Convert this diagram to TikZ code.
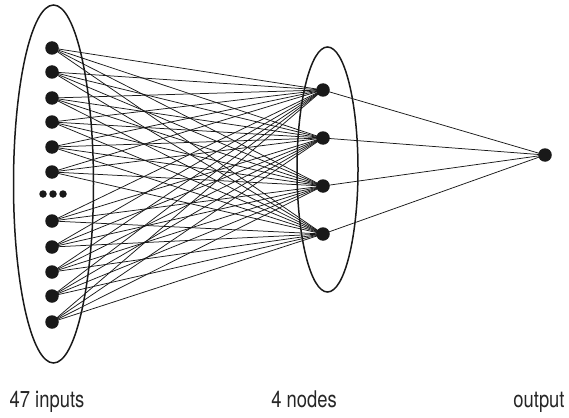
\documentclass[tikz,border=0pt]{standalone}
\usepackage{fontspec}
\setmainfont{TeX Gyre Heros}[FakeStretch=0.8]
\begin{document}
\begin{tikzpicture}[x=1pt,y=-1pt,
  unit/.style={circle,fill=black!90,inner sep=0pt,minimum size=13.5pt},
  tiny/.style={circle,fill=black!90,inner sep=0pt,minimum size=7.5pt},
  conn/.style={line width=0.75pt,black!90},
  group/.style={line width=1.5pt,black!90},
  lab/.style={anchor=base,font=\fontsize{23}{26}\selectfont,text=black!85,inner sep=0pt}]
\useasboundingbox (0,0) rectangle (569,417);
\draw[group] (53.5,184) ellipse [x radius=40, y radius=179];
\draw[group] (327.5,169.5) ellipse [x radius=30.5, y radius=122.5];
\foreach \i/\y in {1/48,2/72,3/98,4/122,5/147,6/172,7/221,8/247,9/272,10/296,11/322}
  \node[unit] (in\i) at (52,\y) {};
\node[tiny] (d1) at (43,194) {};
\node[tiny] (d2) at (53,194) {};
\node[tiny] (d3) at (63,194) {};
\foreach \j/\y in {1/90,2/138,3/186,4/234}
  \node[unit] (h\j) at (323,\y) {};
\node[unit] (out) at (545,155) {};
\foreach \i in {1,...,11}
  \foreach \j in {1,...,4}
    \draw[conn] (in\i.center) -- (h\j.center);
\foreach \j in {1,...,4}
  \draw[conn] (h\j.center) -- (out.center);
\node[lab] (l1) at (47,407) {47 inputs};
\node[lab] (l2) at (304,407) {4 nodes};
\node[lab] (l3) at (539,407) {output};
\end{tikzpicture}
\end{document}
